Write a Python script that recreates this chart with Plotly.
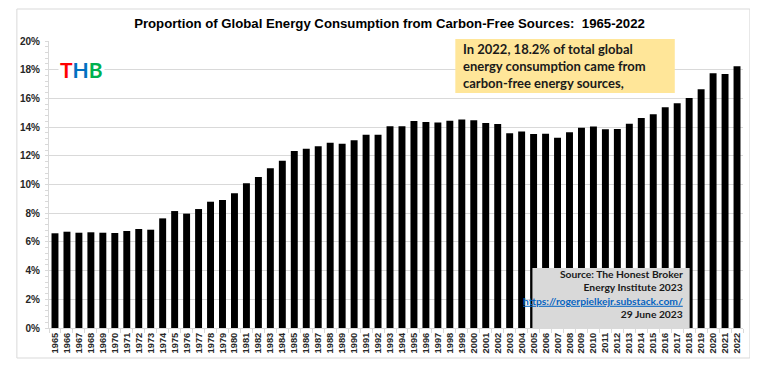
import plotly.graph_objects as go

years = [str(y) for y in range(1965, 2023)]
share_pct = [
    6.60, 6.71, 6.64, 6.67, 6.64, 6.62, 6.76, 6.90, 6.85, 7.64,
    8.15, 7.97, 8.29, 8.80, 8.92, 9.39, 10.08, 10.52, 11.13, 11.66,
    12.33, 12.50, 12.66, 12.91, 12.84, 13.08, 13.47, 13.47, 14.06, 14.06,
    14.42, 14.35, 14.32, 14.45, 14.53, 14.48, 14.28, 14.22, 13.57, 13.70,
    13.52, 13.54, 13.26, 13.64, 13.96, 14.04, 13.85, 13.87, 14.24, 14.63,
    14.89, 15.38, 15.66, 16.03, 16.63, 17.75, 17.70, 18.24,
]
y_ticks = [0, 2, 4, 6, 8, 10, 12, 14, 16, 18, 20]

title_text = "Proportion of Global Energy Consumption from Carbon-Free Sources:  1965-2022"
note_text = ("In 2022, 18.2% of total global<br>energy consumption came from"
             "<br>carbon-free energy sources,")
source_lines = ["Source: The Honest Broker", "Energy Institute 2023",
                "https://rogerpielkejr.substack.com/", "29 June 2023"]

ARIAL = "Liberation Sans, Arial, sans-serif"
GILL = "Lato, Gill Sans MT, sans-serif"

fig = go.Figure(go.Bar(x=years, y=share_pct, marker=dict(color="black", line_width=0),
                       width=0.58))

# the page has an 8px body margin; work in page pixel coordinates
OFF = 8
PAGE_W, PAGE_H = 758, 366
W, H = PAGE_W - OFF, PAGE_H - OFF
PL, PR, PT, PB = 41, 743, 41, 328          # plot area in page pixels
L, R, T, B = PL - OFF, PAGE_W - PR, PT - OFF, PAGE_H - PB
pw, ph = PR - PL, PB - PT

def px_x(px):
    return (px - PL) / pw

def px_y(py):
    return (PB - py) / ph

fig.update_layout(
    width=W, height=H, margin=dict(l=L, r=R, t=T, b=B),
    paper_bgcolor="white", plot_bgcolor="white", showlegend=False,
    bargap=0.42,
    title=dict(text="<b>" + title_text + "</b>", x=(376 - OFF) / W, xref="paper", xanchor="center",
               y=1 - (23 - OFF) / H, yanchor="middle",
               font=dict(family=ARIAL, size=13.2, color="black")),
    font=dict(family=ARIAL, color="#262626"),
)
fig.update_xaxes(type="category", tickangle=-90, showgrid=False,
                 showline=True, linecolor="#D9D9D9", linewidth=1,
                 ticks="outside", tickson="boundaries", ticklen=4, tickcolor="#D9D9D9",
                 tickfont=dict(family=ARIAL, size=9.3, color="#262626"),
                 tickprefix="<b>", ticksuffix="</b>")
fig.update_yaxes(range=[0, 20], tickvals=y_ticks,
                 ticktext=["<b>%d%%</b>" % v for v in y_ticks],
                 showgrid=True, gridcolor="#D9D9D9", gridwidth=1,
                 showline=True, linecolor="#D9D9D9", linewidth=1,
                 zeroline=False, ticks="", ticklabelstandoff=6,
                 tickfont=dict(family=ARIAL, size=10, color="#262626"),
                 minor=dict(dtick=0.4, ticks="outside", ticklen=3, tickcolor="#D9D9D9",
                            showgrid=False))

# outer chart border
fig.add_shape(type="rect", xref="paper", yref="paper",
              x0=px_x(8.5), x1=px_x(750), y0=px_y(358), y1=px_y(9),
              line=dict(color="#D9D9D9", width=1), fillcolor="rgba(0,0,0,0)", layer="below")

# THB logo
fig.add_annotation(xref="paper", yref="paper", x=px_x(74), y=px_y(69.5),
                   xanchor="center", yanchor="middle", showarrow=False,
                   bgcolor="white", borderpad=1,
                   text=("<b><span style='color:#FF0000'>T</span>"
                         "<span style='color:#0070C0'>H</span>"
                         "<span style='color:#00B050'>B</span></b>"),
                   font=dict(family="Lato, sans-serif", size=21))

# yellow note box
fig.add_shape(type="rect", xref="paper", yref="paper",
              x0=px_x(452), x1=px_x(674), y0=px_y(93), y1=px_y(39),
              line=dict(width=0), fillcolor="#FFE699", layer="above")
fig.add_annotation(xref="paper", yref="paper", x=px_x(458), y=px_y(66),
                   xanchor="left", yanchor="middle", align="left", showarrow=False,
                   text="<b>" + note_text + "</b>",
                   font=dict(family=GILL, size=13, color="#1A1A1A"))

# grey source box
fig.add_shape(type="rect", xref="paper", yref="paper",
              x0=px_x(530), x1=px_x(689), y0=px_y(328), y1=px_y(268),
              line=dict(width=0), fillcolor="#D9D9D9", layer="above")
src = ("<b>" + source_lines[0] + "<br>" + source_lines[1] + "<br>"
       "<span style='color:#0563C1;text-decoration:underline'>" + source_lines[2] + "</span><br>"
       + source_lines[3] + "</b>")
fig.add_annotation(xref="paper", yref="paper", x=px_x(684), y=px_y(294),
                   xanchor="right", yanchor="middle", align="right", showarrow=False,
                   text=src, font=dict(family=GILL, size=10.3, color="#1A1A1A"))

fig.write_html("out.html")
